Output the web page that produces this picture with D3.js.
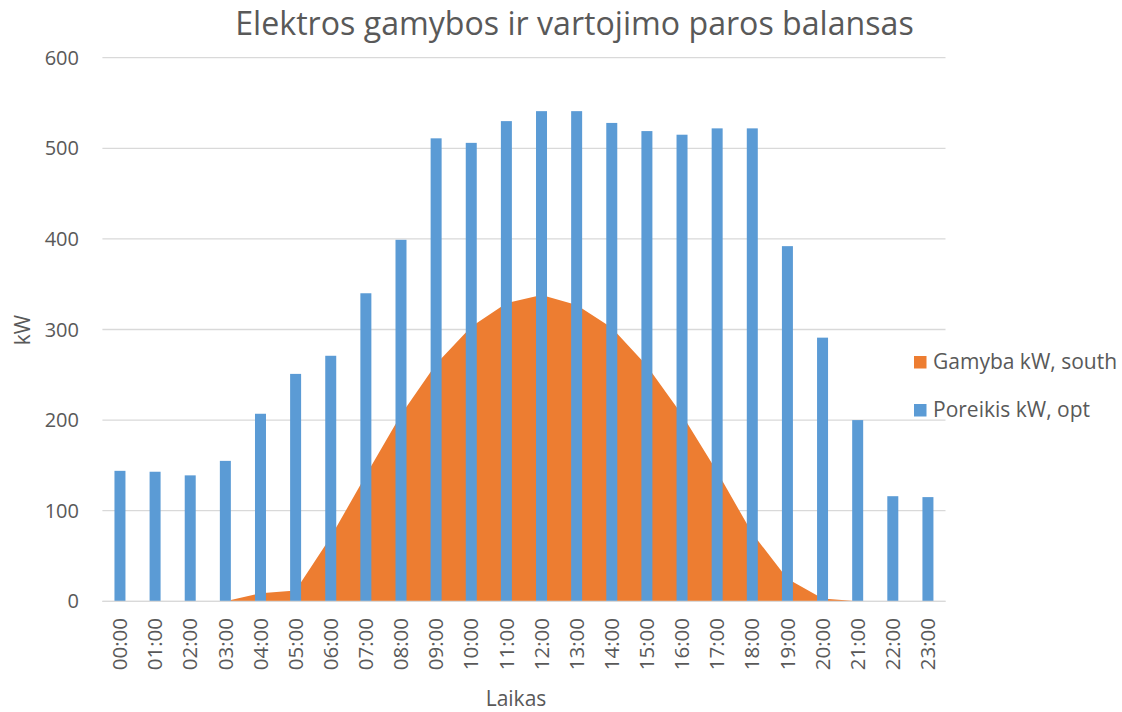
<!DOCTYPE html>
<html>
<head>
<meta charset="utf-8">
<script src="https://cdn.jsdelivr.net/npm/d3@7"></script>
<style>
  body { margin: 0; background: #fff; }
  text { font-family: "Open Sans", sans-serif; fill: #595959; }
</style>
</head>
<body>
<svg id="chart" width="1122" height="712"></svg>
<script>
// Hours of the day
const hours = ["00:00","01:00","02:00","03:00","04:00","05:00","06:00","07:00","08:00","09:00","10:00","11:00",
               "12:00","13:00","14:00","15:00","16:00","17:00","18:00","19:00","20:00","21:00","22:00","23:00"];

// Gamyba kW, south (area)
const gamyba = [0, 0, 0, 0, 9, 12, 71, 139, 206, 262, 303, 329,
                338, 327, 302, 260, 206, 143, 75, 25, 3, 0, 0, 0];

// Poreikis kW, opt (columns)
const poreikis = [144, 143, 139, 155, 207, 251, 271, 340, 399, 511, 506, 530,
                  541, 541, 528, 519, 515, 522, 522, 392, 291, 200, 116, 115];

const yTicks = [0, 100, 200, 300, 400, 500, 600];

const seriesNames = ["Gamyba kW, south", "Poreikis kW, opt"];
const seriesColors = ["#ED7D31", "#5B9BD5"];

const svg = d3.select("#chart");

// plot area
const plotLeft = 102.4, plotRight = 945.5, plotTop = 57.7, plotBottom = 601.3;

const x = d3.scaleBand()
  .domain(hours)
  .range([plotLeft, plotRight])
  .paddingInner(0.687)
  .paddingOuter(0.3435);

const y = d3.scaleLinear().domain([0, 600]).range([plotBottom, plotTop]);

// gridlines
svg.append("g")
  .selectAll("line")
  .data(yTicks)
  .join("line")
    .attr("x1", plotLeft)
    .attr("x2", plotRight)
    .attr("y1", d => y(d))
    .attr("y2", d => y(d))
    .attr("stroke", "#D9D9D9")
    .attr("stroke-width", 1.3);

// y tick labels
svg.append("g")
  .selectAll("text")
  .data(yTicks)
  .join("text")
    .attr("x", 79)
    .attr("y", d => y(d))
    .attr("dy", "0.35em")
    .attr("text-anchor", "end")
    .style("font-size", "20px")
    .text(d => d);

// area for production
const area = d3.area()
  .x((d, i) => x(hours[i]) + x.bandwidth() / 2)
  .y0(y(0))
  .y1(d => y(d));

svg.append("path")
  .datum(gamyba)
  .attr("fill", seriesColors[0])
  .attr("d", area);

// bars for demand
svg.append("g")
  .selectAll("rect")
  .data(poreikis)
  .join("rect")
    .attr("x", (d, i) => x(hours[i]))
    .attr("width", x.bandwidth())
    .attr("y", d => y(d))
    .attr("height", d => y(0) - y(d))
    .attr("fill", seriesColors[1]);

// bottom axis line
svg.append("line")
  .attr("x1", plotLeft).attr("x2", plotRight)
  .attr("y1", y(0)).attr("y2", y(0))
  .attr("stroke", "#D9D9D9")
  .attr("stroke-width", 1.3);

// x tick labels (rotated)
svg.append("g")
  .selectAll("text")
  .data(hours)
  .join("text")
    .attr("transform", d => `translate(${x(d) + x.bandwidth() / 2},618) rotate(-90)`)
    .attr("dy", "0.35em")
    .attr("text-anchor", "end")
    .style("font-size", "20.5px")
    .text(d => d);

// title
const title = svg.append("text")
  .attr("x", 574.5)
  .attr("y", 35)
  .attr("text-anchor", "middle")
  .style("font-size", "30px")
  .text("Elektros gamybos ir vartojimo paros balansas");
const tw = title.node().getComputedTextLength();
title.style("font-size", (30 * 679 / tw) + "px");

// axis titles
svg.append("text")
  .attr("transform", "translate(30,330) rotate(-90)")
  .attr("text-anchor", "middle")
  .style("font-size", "21px")
  .text("kW");

svg.append("text")
  .attr("x", 516)
  .attr("y", 706)
  .attr("text-anchor", "middle")
  .style("font-size", "21px")
  .text("Laikas");

// legend
const legend = svg.append("g")
  .selectAll("g")
  .data(seriesNames)
  .join("g")
    .attr("transform", (d, i) => `translate(914,${356 + i * 48})`);

legend.append("rect")
  .attr("width", 12.5)
  .attr("height", 12.5)
  .attr("fill", (d, i) => seriesColors[i]);

legend.append("text")
  .attr("x", 19)
  .attr("y", 12.5)
  .style("font-size", "21px")
  .text(d => d);
</script>
</body>
</html>
